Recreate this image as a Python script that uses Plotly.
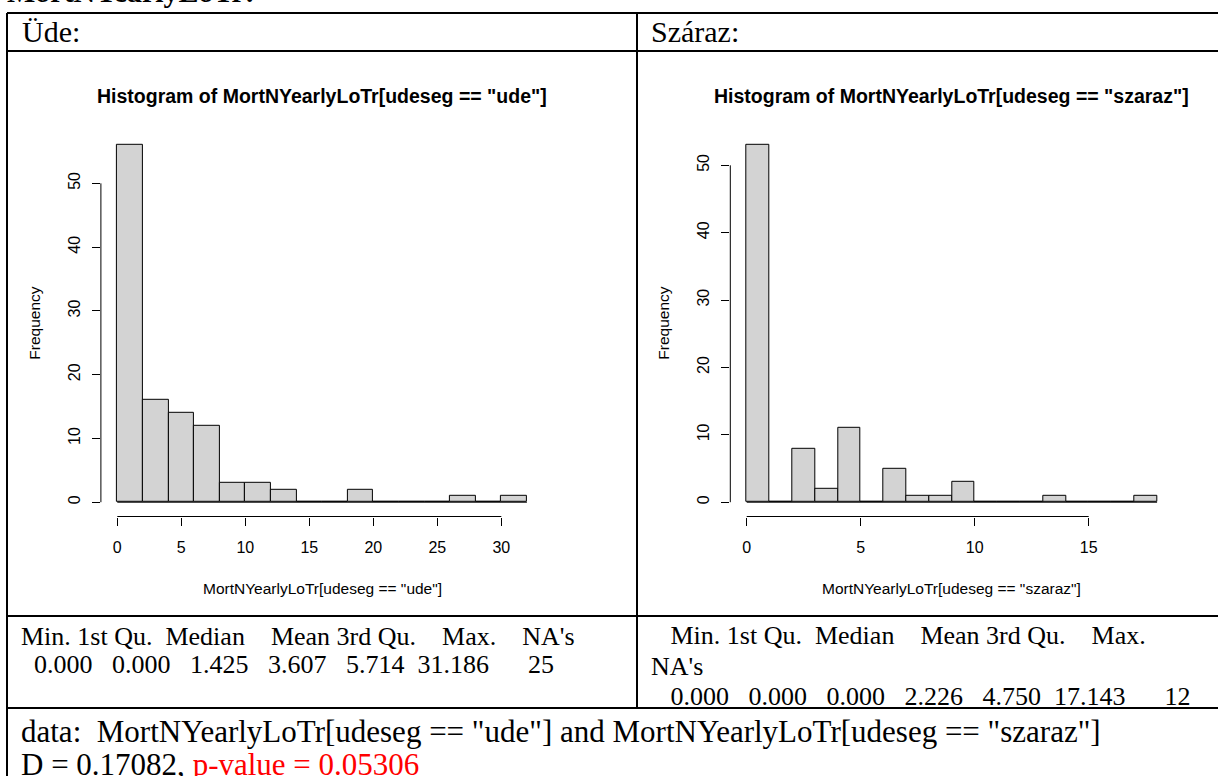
import plotly.graph_objects as go

W, H = 1218, 776

# ---------------- data ----------------
ude_edges = [0, 2, 4, 6, 8, 10, 12, 14, 16, 18, 20, 22, 24, 26, 28, 30, 32]
ude_counts = [56, 16, 14, 12, 3, 3, 2, 0, 0, 2, 0, 0, 0, 1, 0, 1]
sz_edges = [0, 1, 2, 3, 4, 5, 6, 7, 8, 9, 10, 11, 12, 13, 14, 15, 16, 17, 18]
sz_counts = [53, 0, 8, 2, 11, 0, 5, 1, 1, 3, 0, 0, 0, 1, 0, 0, 0, 1]

ude_xticks = [0, 5, 10, 15, 20, 25, 30]
sz_xticks = [0, 5, 10, 15]
y_ticks = [0, 10, 20, 30, 40, 50]

stat_names = ["Min.", "1st Qu.", "Median", "Mean", "3rd Qu.", "Max.", "NA's"]
ude_stats = ["0.000", "0.000", "1.425", "3.607", "5.714", "31.186", "25"]
sz_stats = ["0.000", "0.000", "0.000", "2.226", "4.750", "17.143", "12"]

title_ude = 'Histogram of MortNYearlyLoTr[udeseg == "ude"]'
title_sz = 'Histogram of MortNYearlyLoTr[udeseg == "szaraz"]'
xlab_ude = 'MortNYearlyLoTr[udeseg == "ude"]'
xlab_sz = 'MortNYearlyLoTr[udeseg == "szaraz"]'
test_line1 = 'data:  MortNYearlyLoTr[udeseg == "ude"] and MortNYearlyLoTr[udeseg == "szaraz"]'
test_D = "D = 0.17082, "
test_p = "p-value = 0.05306"

SANS = "Liberation Sans, Arial, sans-serif"
SERIF = "Liberation Serif, Times New Roman, serif"


def px(x):
    return x / W


def py(y):
    return 1 - y / H


def r_range(lo, hi):
    d = (hi - lo) * 0.04
    return [lo - d, hi + d]


fig = go.Figure()


def add_hist(edges, counts, xa, ya):
    centers = [(a + b) / 2 for a, b in zip(edges[:-1], edges[1:])]
    widths = [b - a for a, b in zip(edges[:-1], edges[1:])]
    fig.add_trace(go.Bar(
        x=centers, y=counts, width=widths, xaxis=xa, yaxis=ya,
        marker=dict(color="#d3d3d3", line=dict(color="black", width=1)),
        showlegend=False, hoverinfo="x+y"))
    # baseline (R draws zero-height bins as a line)
    fig.add_shape(type="line", xref=xa, yref=ya, x0=edges[0], x1=edges[-1],
                  y0=0, y1=0, line=dict(color="black", width=1))


add_hist(ude_edges, ude_counts, "x", "y")
add_hist(sz_edges, sz_counts, "x2", "y2")

# plot regions (pixels)
top_px, bot_px = 130.8, 516.5
L1, R1 = 100.9, 543.3
L2, R2 = 730.3, 1173.5

axis_common = dict(showgrid=False, zeroline=False, showline=False,
                   ticks="outside", ticklen=8, tickwidth=1, tickcolor="black",
                   tickfont=dict(family=SANS, size=16, color="black"),
                   fixedrange=True)

fig.update_layout(
    width=W, height=H,
    margin=dict(l=0, r=0, t=0, b=0),
    paper_bgcolor="white", plot_bgcolor="white",
    bargap=0,
    xaxis=dict(domain=[px(L1), px(R1)], range=r_range(ude_edges[0], ude_edges[-1]),
               tickvals=ude_xticks, anchor="y", ticklabelstandoff=8, **axis_common),
    yaxis=dict(domain=[py(bot_px), py(top_px)], range=r_range(0, max(ude_counts)),
               tickvals=y_ticks, anchor="x", tickangle=-90, ticklabelstandoff=6,
               **axis_common),
    xaxis2=dict(domain=[px(L2), px(R2)], range=r_range(sz_edges[0], sz_edges[-1]),
                tickvals=sz_xticks, anchor="y2", ticklabelstandoff=8, **axis_common),
    yaxis2=dict(domain=[py(bot_px), py(top_px)], range=r_range(0, max(sz_counts)),
                tickvals=y_ticks, anchor="x2", tickangle=-90, ticklabelstandoff=6,
                **axis_common),
)

# R-style axis lines spanning only the tick range
for xa, ya, xt in [("x", "y", ude_xticks), ("x2", "y2", sz_xticks)]:
    fig.add_shape(type="line", xref=xa, yref=ya + " domain", x0=xt[0], x1=xt[-1],
                  y0=0, y1=0, line=dict(color="black", width=1))
    fig.add_shape(type="line", xref=xa + " domain", yref=ya, x0=0, x1=0,
                  y0=y_ticks[0], y1=y_ticks[-1], line=dict(color="black", width=1))

# ---------------- table borders ----------------
BW = 2
left_b, div_x = 7, 637
rows = [13, 51, 616, 708]
for yy in rows:
    fig.add_shape(type="line", xref="paper", yref="paper", x0=px(left_b), x1=1.01,
                  y0=py(yy), y1=py(yy), line=dict(color="black", width=BW))
fig.add_shape(type="line", xref="paper", yref="paper", x0=px(left_b), x1=px(left_b),
              y0=py(rows[0]), y1=-0.01, line=dict(color="black", width=BW))
fig.add_shape(type="line", xref="paper", yref="paper", x0=px(div_x), x1=px(div_x),
              y0=py(rows[0]), y1=py(rows[3]), line=dict(color="black", width=BW))


def ann(text, x, y, size, family, xanchor="left", yanchor="middle", color="black",
        textangle=0):
    fig.add_annotation(text=text, x=px(x), y=py(y), xref="paper", yref="paper",
                       showarrow=False, xanchor=xanchor, yanchor=yanchor,
                       font=dict(family=family, size=size, color=color),
                       textangle=textangle, borderpad=0)


NB = "\u00a0"


def sp(s):
    return s.replace(" ", NB)


# heading partly cut at top
ann("<b>MortNYearlyLoTr:</b>", 6, -9, 30, SERIF)

ann("Üde:", 21, 32, 30, SERIF)
ann("Száraz:", 650, 32, 30, SERIF)

# histogram titles and axis titles
ann("<b>" + title_ude + "</b>", (L1 + R1) / 2, 96, 19.5, SANS, xanchor="center")
ann("<b>" + title_sz + "</b>", (L2 + R2) / 2, 96, 19.5, SANS, xanchor="center")
ann(xlab_ude, (L1 + R1) / 2, 588, 15.5, SANS, xanchor="center")
ann(xlab_sz, (L2 + R2) / 2, 588, 15.5, SANS, xanchor="center")
ann("Frequency", 35, (top_px + bot_px) / 2, 15.5, SANS, xanchor="center", textangle=-90)
ann("Frequency", 664, (top_px + bot_px) / 2, 15.5, SANS, xanchor="center", textangle=-90)

# summary rows (R summary() output)
gaps_hdr = [" ", "  ", "    ", " ", "    ", "    "]
hdr = stat_names[0]
for g, n in zip(gaps_hdr, stat_names[1:]):
    hdr += g + n
hdr_noNA = hdr[: hdr.rfind(stat_names[-1])].rstrip()


def vals_line(vals):
    s = "  " + vals[0]
    for v in vals[1:-1]:
        s += " " * (8 - len(v)) + v
    s += " " * (8 - len(vals[-1])) + vals[-1]
    return s


SF = 26
ann(sp(hdr), 20, 636, SF, SERIF)
ann(sp(vals_line(ude_stats)), 20, 664, SF, SERIF)
ann(sp("   " + hdr_noNA), 650, 635, SF, SERIF)
ann(stat_names[-1], 650, 666, SF, SERIF)
ann(sp(" " + vals_line(sz_stats)), 650, 696, SF, SERIF)

# test result
ann(sp(test_line1), 20, 731, 31, SERIF)
ann(sp(test_D) + '<span style="color:red">' + sp(test_p) + "</span>", 20, 764, 31, SERIF)

fig.write_html("out.html", config={"displayModeBar": False},
               post_script="document.body.style.margin='0px';")
